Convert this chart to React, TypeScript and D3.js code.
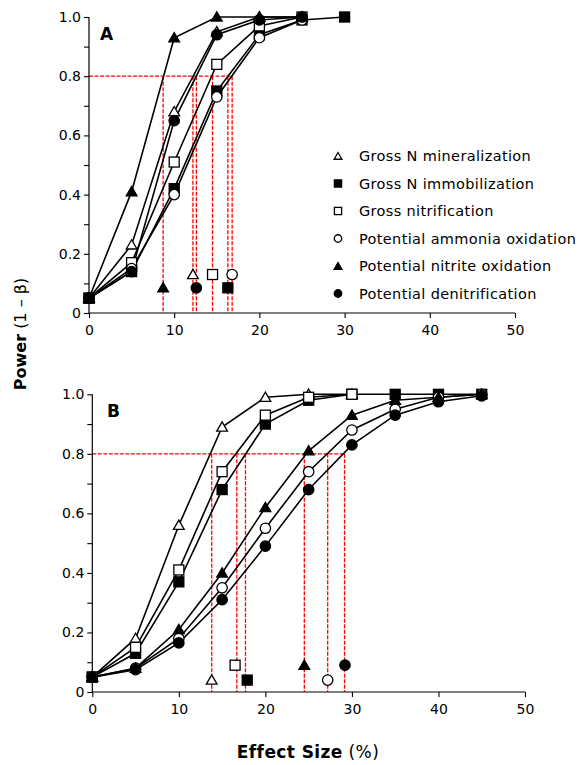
import React, { useRef, useEffect } from 'react';
import * as d3 from 'd3';

const seriesNames = [
  'Gross N mineralization',
  'Gross N immobilization',
  'Gross nitrification',
  'Potential ammonia oxidation',
  'Potential nitrite oxidation',
  'Potential denitrification',
];
const seriesMarkers = ['triOpen', 'sqFill', 'sqOpen', 'circOpen', 'triFill', 'circFill'];

// panel A: effect sizes 0..30
const effectA = [0, 5, 10, 15, 20, 25, 30];
const mineralA = [0.05, 0.23, 0.68, 0.95, 1.0, 1.0];
const immobA = [0.05, 0.14, 0.42, 0.75, 0.94, 0.99, 1.0];
const nitrifA = [0.05, 0.17, 0.51, 0.84, 0.97, 1.0];
const ammoniaA = [0.05, 0.15, 0.40, 0.73, 0.93, 0.99];
const nitriteA = [0.05, 0.41, 0.93, 1.0, 1.0, 1.0];
const denitA = [0.05, 0.14, 0.65, 0.94, 0.99, 1.0];
const crossA = [12.2, 16.3, 14.5, 16.8, 8.7, 12.6];
const markerYA = [0.13, 0.085, 0.13, 0.13, 0.085, 0.085];

// panel B: effect sizes 0..45
const effectB = [0, 5, 10, 15, 20, 25, 30, 35, 40, 45];
const mineralB = [0.05, 0.18, 0.56, 0.89, 0.99, 1.0, 1.0];
const immobB = [0.05, 0.13, 0.37, 0.68, 0.90, 0.98, 1.0, 1.0, 1.0, 1.0];
const nitrifB = [0.05, 0.15, 0.41, 0.74, 0.93, 0.99, 1.0];
const ammoniaB = [0.05, 0.08, 0.18, 0.35, 0.55, 0.74, 0.88, 0.95, 0.99, 1.0];
const nitriteB = [0.05, 0.08, 0.21, 0.40, 0.62, 0.81, 0.93, 0.98, 0.99, 1.0];
const denitB = [0.05, 0.075, 0.165, 0.31, 0.49, 0.68, 0.83, 0.93, 0.975, 0.995];
const crossB = [13.8, 17.7, 16.7, 27.2, 24.5, 29.15];
const markerXB = [13.8, 17.9, 16.5, 27.2, 24.5, 29.2];
const markerYB = [0.04, 0.04, 0.09, 0.04, 0.09, 0.09];

const xTicks = [0, 10, 20, 30, 40, 50];
const yTicks = [0, 0.2, 0.4, 0.6, 0.8, 1.0];

const FONT = '"DejaVu Sans", Verdana, sans-serif';

function drawMarker(g: any, kind: string, cx: number, cy: number, scale = 1) {
  const filled = kind.endsWith('Fill');
  const fill = filled ? '#000' : '#fff';
  if (kind.startsWith('sq')) {
    const s = 10 * scale;
    g.append('rect').attr('x', cx - s / 2).attr('y', cy - s / 2).attr('width', s).attr('height', s)
      .attr('fill', fill).attr('stroke', '#000').attr('stroke-width', 1.3);
  } else if (kind.startsWith('circ')) {
    g.append('circle').attr('cx', cx).attr('cy', cy).attr('r', 5.2 * scale)
      .attr('fill', fill).attr('stroke', '#000').attr('stroke-width', 1.3);
  } else {
    const sym = d3.symbol().type(d3.symbolTriangle).size(50 * scale * scale);
    g.append('path').attr('d', sym()).attr('transform', `translate(${cx},${cy + 1})`)
      .attr('fill', fill).attr('stroke', '#000').attr('stroke-width', 1.3);
  }
}

function drawPanel(svg: any, opt: any) {
  const { x0, x1, y0, y1, xs, data, cross, mx, my, label } = opt;
  const x = d3.scaleLinear().domain([0, 50]).range([x0, x1]);
  const y = d3.scaleLinear().domain([0, 1]).range([y0, y1]);
  const g = svg.append('g');

  // red guide lines at power 0.8
  const red = g.append('g').attr('stroke', '#ff0000').attr('stroke-width', 1.3)
    .attr('stroke-dasharray', '4,1.5').attr('fill', 'none');
  red.append('line').attr('x1', x(0)).attr('x2', x(d3.max(cross) as number))
    .attr('y1', y(0.8)).attr('y2', y(0.8));
  cross.forEach((c: number) => {
    red.append('line').attr('x1', x(c)).attr('x2', x(c)).attr('y1', y(0.8)).attr('y2', y(0));
  });

  // axes
  const yAxis = d3.axisLeft(y).tickValues(d3.range(0, 1.0001, 0.1)).tickSize(5)
    .tickFormat((d: any) => {
      const v = Math.round(d * 10) / 10;
      if (v === 0) return '0';
      return yTicks.some(t => Math.abs(t - v) < 1e-6) ? v.toFixed(1) : '';
    });
  const ya = g.append('g').attr('transform', `translate(${x0},0)`).call(yAxis);
  const xAxis = d3.axisBottom(x).tickValues(xTicks).tickSize(5).tickFormat(d3.format('d'));
  const xa = g.append('g').attr('transform', `translate(0,${y0})`).call(xAxis);
  [ya, xa].forEach(a => {
    a.select('.domain').attr('stroke', '#000').attr('stroke-width', 1.2).attr('d',
      a === ya ? `M0,${y0}V${y1}` : `M${x0},0H${x1}`);
    a.selectAll('line').attr('stroke', '#000').attr('stroke-width', 1.1);
    a.selectAll('text').attr('font-family', FONT).attr('font-size', 14).attr('fill', '#000');
  });
  ya.selectAll('text').attr('x', -8);
  xa.selectAll('text').attr('y', 12);

  // series lines
  const line = d3.line<number>().x((_d, i) => x(xs[i])).y(d => y(d));
  data.forEach((vals: number[]) => {
    g.append('path').attr('d', line(vals)).attr('fill', 'none')
      .attr('stroke', '#000').attr('stroke-width', 1.6);
  });
  // series markers
  const mg = g.append('g');
  data.forEach((vals: number[], si: number) => {
    vals.forEach((v, i) => drawMarker(mg, seriesMarkers[si], x(xs[i]), y(v)));
  });
  // markers at the crossing points
  cross.forEach((_c: number, si: number) => {
    drawMarker(mg, seriesMarkers[si], x(mx[si]), y(my[si]));
  });

  g.append('text').attr('x', label.x).attr('y', label.y).text(label.t)
    .attr('font-family', FONT).attr('font-weight', 'bold').attr('font-size', 17);
}

const App = () => {
  const ref = useRef<SVGSVGElement>(null);

  useEffect(() => {
    const svg = d3.select(ref.current);
    svg.selectAll('*').remove();

    drawPanel(svg, {
      x0: 89, x1: 515, y0: 313, y1: 17, xs: effectA,
      data: [mineralA, immobA, nitrifA, ammoniaA, nitriteA, denitA],
      cross: crossA, mx: crossA, my: markerYA,
      label: { x: 100, y: 40, t: 'A' },
    });
    drawPanel(svg, {
      x0: 92.3, x1: 525, y0: 692, y1: 394.3, xs: effectB,
      data: [mineralB, immobB, nitrifB, ammoniaB, nitriteB, denitB],
      cross: crossB, mx: markerXB, my: markerYB,
      label: { x: 107, y: 417, t: 'B' },
    });

    // legend
    const legend = svg.append('g').attr('transform', 'translate(338,156)');
    seriesNames.forEach((name, i) => {
      const row = legend.append('g').attr('transform', `translate(0,${i * 27.5})`);
      drawMarker(row, seriesMarkers[i], 0, 0, 0.72);
      row.append('text').attr('x', 21).attr('y', 5).text(name)
        .attr('font-family', FONT).attr('font-size', 14.5).attr('letter-spacing', 0.35)
        .attr('fill', '#000');
    });

    // axis titles
    const yt = svg.append('text').attr('transform', 'translate(26,334) rotate(-90)')
      .attr('text-anchor', 'middle').attr('font-family', FONT).attr('font-size', 16);
    yt.append('tspan').attr('font-weight', 'bold').text('Power');
    yt.append('tspan').text(' (1 \u2013 \u03b2)');
    const xt = svg.append('text').attr('x', 308).attr('y', 758)
      .attr('text-anchor', 'middle').attr('font-family', FONT).attr('font-size', 17)
      .attr('letter-spacing', 0.4);
    xt.append('tspan').attr('font-weight', 'bold').text('Effect Size');
    xt.append('tspan').text(' (%)');
  }, []);

  return (
    <svg ref={ref} width={581} height={765}
      style={{ position: 'absolute', left: 0, top: 0, background: '#fff' }} />
  );
};

export default App;
